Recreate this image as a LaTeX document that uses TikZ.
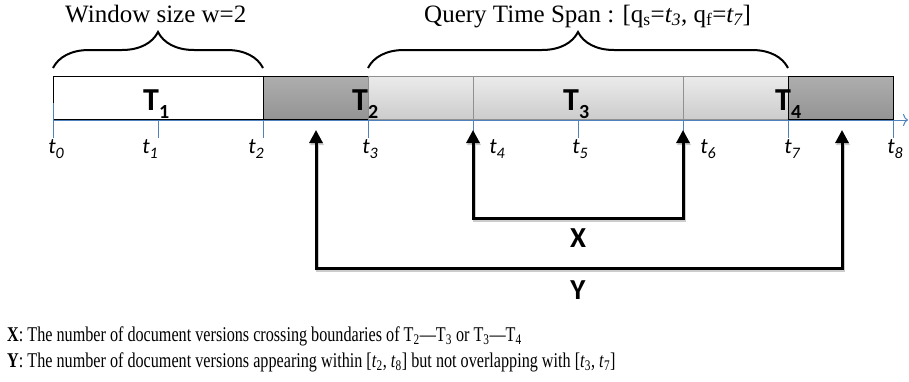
\documentclass[tikz,border=0pt]{standalone}
\usepackage{fontspec}
\setmainfont{Liberation Serif}
\newfontfamily\timesfont[Ligatures=TeX]{Liberation Serif}
\newfontfamily\calibri{Carlito}
\newfontfamily\legendfont[FakeStretch=0.77,Ligatures=TeX]{Liberation Serif}
\usetikzlibrary{positioning,arrows.meta,decorations.pathreplacing}
\definecolor{axisblue}{RGB}{79,129,189}
\definecolor{spangray}{RGB}{144,144,144}

\begin{document}
\begin{tikzpicture}[x=1pt,y=-1pt,
        seg/.style={draw=black, line width=1pt, minimum height=43pt, inner sep=0pt, anchor=south west},
        darkseg/.style={seg, top color=black!32, bottom color=black!42},
        spanseg/.style={seg, draw=spangray, top color=black!8, bottom color=black!20},
        seglabel/.style={font=\calibri\bfseries\fontsize{32}{32}\selectfont, inner sep=0pt, anchor=base west},
        ticklabel/.style={font=\calibri\itshape\fontsize{22}{22}\selectfont, inner sep=0pt, anchor=base},
        bracelabel/.style={font=\timesfont\fontsize{25}{25}\selectfont, inner sep=0pt, anchor=base west},
        brace/.style={decorate, decoration={brace, amplitude=36pt}, line width=2pt},
        biglabel/.style={font=\calibri\bfseries\fontsize{29}{29}\selectfont, inner sep=0pt},
        pointer/.style={line width=3pt, {Triangle[width=13pt,length=13pt]}-{Triangle[width=13pt,length=13pt]},
            preaction={draw=black!20, line width=3pt, transform canvas={shift={(1pt,-2pt)}}}},
        legend/.style={font=\legendfont\fontsize{21}{21}\selectfont, inner sep=0pt, anchor=base west}]
        \useasboundingbox (0,0) rectangle (909,381);
        \foreach \i in {0,...,8}
            \coordinate (t\i) at (53+105*\i,120);
        % bar
        \node[seg, fill=white, minimum width=210pt] (T1) at (t0) {};
        \node[darkseg, minimum width=105pt] (gapl) at (t2) {};
        \node[spanseg, minimum width=420pt] (span) at (t3) {};
        \node[darkseg, minimum width=105pt] (gapr) at (t7) {};
        \draw[spangray, line width=1pt] (t4) -- (t4 |- span.north);
        \draw[spangray, line width=1pt] (t6) -- (t6 |- span.north);
        \node[seglabel] (lT1) at (143,110) {T\raisebox{-8pt}{\fontsize{20}{20}\selectfont 1}};
        \node[seglabel] (lT2) at (352,110) {T\raisebox{-8pt}{\fontsize{20}{20}\selectfont 2}};
        \node[seglabel] (lT3) at (563,110) {T\raisebox{-8pt}{\fontsize{20}{20}\selectfont 3}};
        \node[seglabel] (lT4) at (775,110) {T\raisebox{-8pt}{\fontsize{20}{20}\selectfont 4}};
        % time axis
        \coordinate (axisend) at (908,120);
        \draw[axisblue, line width=1pt, -{To[length=5pt,width=12pt]}] (t0) -- (axisend);
        \draw[axisblue, line width=1pt] (53,103) -- (53,138);
        \foreach \i in {1,...,8}
            \draw[axisblue, line width=1pt] (t\i) -- ++(0,18);
        \foreach \i/\x in {0/56,1/150,2/256,3/370,4/497,5/580,6/708,7/792,8/895}
            \node[ticklabel] (lt\i) at (\x,153) {t\raisebox{-5pt}{\fontsize{16}{16}\selectfont\i}};
        % braces
        \draw[brace] (t0 |- 0,68) -- (t2 |- 0,68);
        \draw[brace] (t3 |- 0,68) -- (t7 |- 0,68);
        \node[bracelabel] (winlabel) at (65,22) {Window size w=2};
        \node[bracelabel] (spanlabel) at (424,22) {Query Time Span : [q\textsubscript{s}=\textit{t\textsubscript{3}}, q\textsubscript{f}=\textit{t\textsubscript{7}}]};
        % X and Y
        \coordinate (xl) at (473,130);
        \coordinate (xr) at (683,130);
        \coordinate (yl) at (316,130);
        \coordinate (yr) at (842,130);
        \draw[pointer] (xl) -- ++(0,88) coordinate (xbase) -| (xr);
        \draw[pointer] (yl) -- ++(0,138) coordinate (ybase) -| (yr);
        \node[biglabel, anchor=north] (xlabel) at (578,228) {X};
        \node[biglabel, anchor=north] (ylabel) at (578,280) {Y};
        % legend
        \node[legend] (legx) at (7,341) {\textbf{X}: The number of document versions crossing boundaries of T\textsubscript{2}—T\textsubscript{3} or T\textsubscript{3}—T\textsubscript{4}};
        \node[legend] (legy) at (7,367) {\textbf{Y}: The number of document versions appearing within [\textit{t}\textsubscript{2}, \textit{t}\textsubscript{8}] but not overlapping with [\textit{t}\textsubscript{3}, \textit{t}\textsubscript{7}]};
\end{tikzpicture}
\end{document}
